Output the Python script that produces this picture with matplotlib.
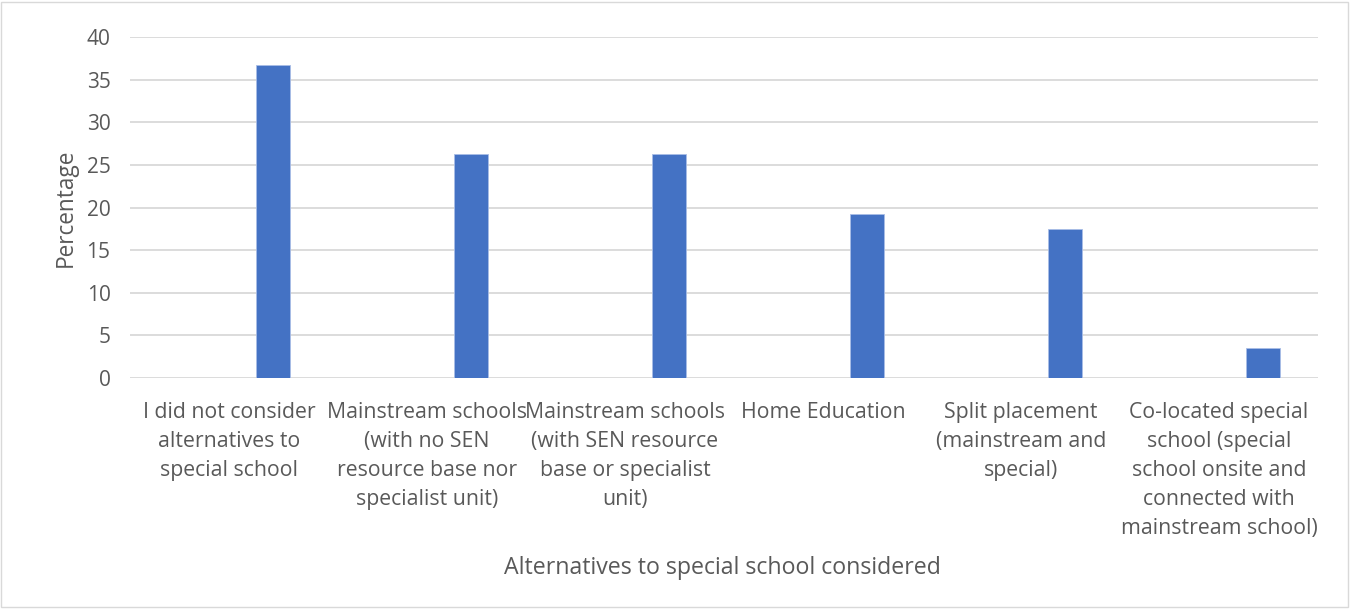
import numpy as np
import matplotlib.pyplot as plt
from matplotlib.patches import Rectangle

# Chart data
categories = [
    "I did not consider\nalternatives to\nspecial school",
    "Mainstream schools\n(with no SEN\nresource base nor\nspecialist unit)",
    "Mainstream schools\n(with SEN resource\nbase or specialist\nunit)",
    "Home Education",
    "Split placement\n(mainstream and\nspecial)",
    "Co-located special\nschool (special\nschool onsite and\nconnected with\nmainstream school)",
]
percentages = [36.7, 26.3, 26.3, 19.2, 17.5, 3.5]
y_ticks = [0, 5, 10, 15, 20, 25, 30, 35, 40]

plt.rcParams['font.family'] = ['Open Sans', 'DejaVu Sans']

fig = plt.figure(figsize=(13.51, 6.09), dpi=100)
ax = fig.add_axes([0.0962, 0.3793, 0.8794, 0.5599])

x = np.arange(len(categories))
# bars sit right of the category centre (empty first series in the original)
ax.bar(x + 0.222, percentages, width=0.172, color='#4472c4',
       edgecolor='#a9bde6', linewidth=0.6, zorder=3)

ax.set_xlim(-0.5, len(categories) - 0.5)
ax.set_ylim(0, 40)
ax.set_yticks(y_ticks)
ax.yaxis.grid(True, color='#d9d9d9', linewidth=1.3, zorder=0)
ax.set_axisbelow(True)
for s in ax.spines.values():
    s.set_visible(False)

ax.set_xticks(x)
ax.set_xticklabels(categories, fontsize=15.3, color='#595959',
                   linespacing=1.5, va='top')
ax.tick_params(axis='x', length=0, pad=17)
ax.tick_params(axis='y', length=0, pad=14, labelsize=15, labelcolor='#595959')

ax.set_ylabel('Percentage', fontsize=16.3, color='#595959', labelpad=6)
fig.text(0.535, 0.068, 'Alternatives to special school considered',
         fontsize=16.7, color='#595959', ha='center', va='center')

# outer chart border
fig.patches.append(Rectangle((0.001, 0.003), 0.997, 0.994, transform=fig.transFigure,
                             fill=False, edgecolor='#d9d9d9', linewidth=1))

fig.savefig('out.png', dpi=100)
